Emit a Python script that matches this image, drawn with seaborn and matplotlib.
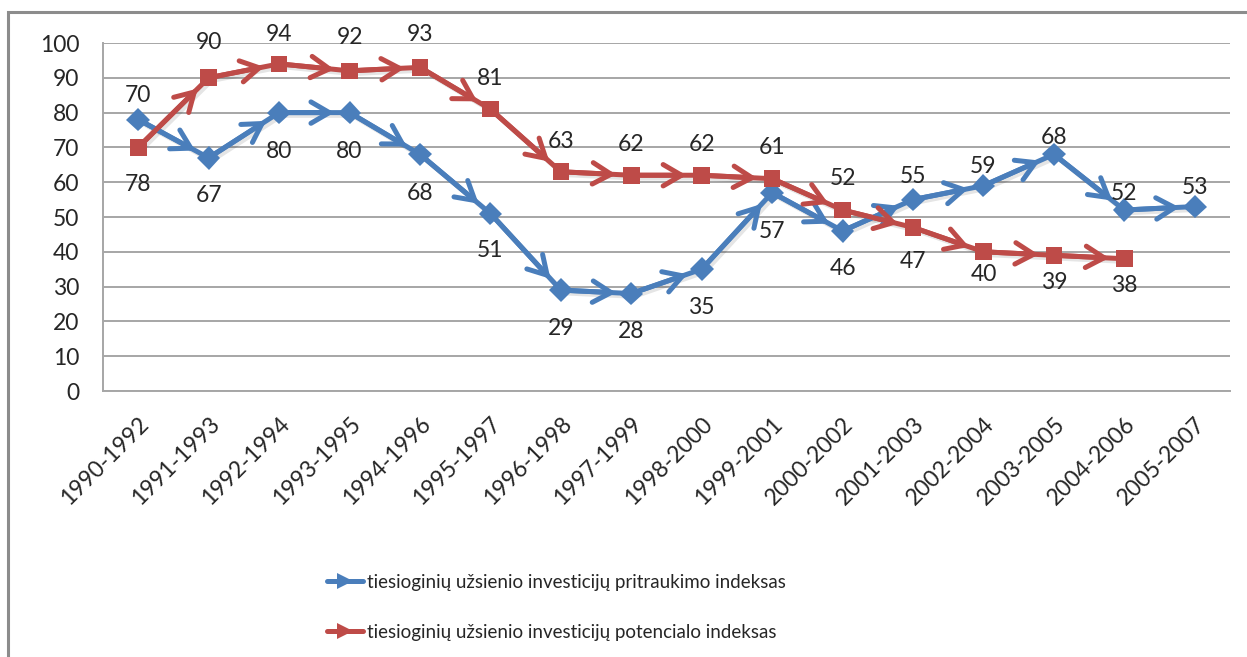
import numpy as np
import pandas as pd
import seaborn as sns
import matplotlib.pyplot as plt
import matplotlib.patheffects as pe
from matplotlib.lines import Line2D
from matplotlib.patches import Rectangle

# data
periods = ['1990-1992', '1991-1993', '1992-1994', '1993-1995', '1994-1996', '1995-1997',
           '1996-1998', '1997-1999', '1998-2000', '1999-2001', '2000-2002', '2001-2003',
           '2002-2004', '2003-2005', '2004-2006', '2005-2007']
attraction = [78, 67, 80, 80, 68, 51, 29, 28, 35, 57, 46, 55, 59, 68, 52, 53]
potential = [70, 90, 94, 92, 93, 81, 63, 62, 62, 61, 52, 47, 40, 39, 38, np.nan]
name_attr = 'tiesioginių užsienio investicijų pritraukimo indeksas'
name_pot = 'tiesioginių užsienio investicijų potencialo indeksas'

# label offsets in pixels (positive = above the point)
attraction_dy = [-65, -38, -39, -39, -39, -37, -38, -38, -38, -39, -38, 23, 19, 17, 17, 19]
potential_dy = [52, 35, 29, 33, 33, 31, 30, 31, 31, 31, 32, -34, -23, -27, -27, 0]

blue = '#4A7EBB'
red = '#BE4B48'

df = pd.concat([
    pd.DataFrame({'period': periods, 'value': attraction, 'series': name_attr}),
    pd.DataFrame({'period': periods, 'value': potential, 'series': name_pot}),
]).dropna()

sns.set_style('white')
plt.rcParams['font.family'] = ['Lato', 'DejaVu Sans']

fig = plt.figure(figsize=(12.47, 6.57), dpi=100)
ax = fig.add_axes([103 / 1247, 1 - 391 / 657, 1127 / 1247, 348 / 657])

shadow = [pe.SimpleLineShadow(offset=(2, -2), alpha=0.1), pe.Normal()]
sns.lineplot(data=df, x='period', y='value', hue='series', style='series',
             palette={name_attr: blue, name_pot: red},
             markers={name_attr: 'D', name_pot: 's'}, dashes=False,
             markersize=12, markeredgewidth=0, linewidth=3.6, sort=False,
             legend=False, ax=ax, path_effects=shadow, zorder=3)

# arrow heads on every segment
for vals, col in [(attraction, blue), (potential, red)]:
    for i in range(len(vals) - 1):
        if np.isnan(vals[i]) or np.isnan(vals[i + 1]):
            continue
        ax.annotate('', xy=(i + 1, vals[i + 1]), xytext=(i, vals[i]),
                    arrowprops=dict(arrowstyle='->,head_length=0.6,head_width=0.35',
                                    mutation_scale=22, color=col, lw=3.6,
                                    shrinkA=0, shrinkB=11),
                    zorder=3)

# value labels
for vals, dys in [(attraction, attraction_dy), (potential, potential_dy)]:
    for i, (v, dy) in enumerate(zip(vals, dys)):
        if np.isnan(v):
            continue
        ax.annotate(f'{v:.0f}', xy=(i, v), xytext=(0, dy), textcoords='offset pixels',
                    ha='center', va='center', fontsize=16.5, color='#262626', zorder=4)

ax.set_xlim(-0.5, len(periods) - 0.5)
ax.set_ylim(0, 100)
ax.set_yticks(range(0, 101, 10))
ax.set_xlabel('')
ax.set_ylabel('')
ax.yaxis.grid(True, color='#a6a6a6', lw=1.4)
ax.set_axisbelow(True)
for s in ['top', 'right']:
    ax.spines[s].set_visible(False)
for s in ['left', 'bottom']:
    ax.spines[s].set_color('#a6a6a6')
    ax.spines[s].set_linewidth(1.4)
ax.tick_params(axis='both', length=0, labelsize=16.5, labelcolor='#262626')
ax.tick_params(axis='y', pad=17)
ax.tick_params(axis='x', pad=16)
plt.setp(ax.get_xticklabels(), rotation=45, ha='right', rotation_mode='anchor')

handles = [Line2D([], [], color=blue, lw=3.6, marker='>', markersize=11, markeredgewidth=0),
           Line2D([], [], color=red, lw=3.6, marker='>', markersize=11, markeredgewidth=0)]
fig.legend(handles, [name_attr, name_pot], loc='upper left',
           bbox_to_anchor=(310 / 1247, 1 - 557 / 657), frameon=False,
           fontsize=13.5, handlelength=1.9, handletextpad=0.25, labelspacing=1.75,
           labelcolor='#262626')

# outer chart border
fig.patches.append(Rectangle((8 / 1247, -0.1), 1.2, 1 - 12 / 657 + 0.1,
                             transform=fig.transFigure, fill=False,
                             edgecolor='#8c8c8c', lw=2.2, clip_on=False))

fig.savefig('out.png', dpi=100)
